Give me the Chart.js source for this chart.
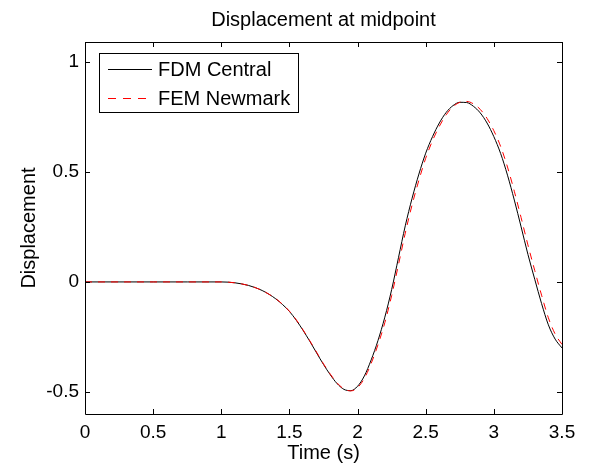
<!DOCTYPE html>
<html>
<head>
<meta charset="utf-8">
<script src="https://cdn.jsdelivr.net/npm/chart.js@4"></script>
<style>
  html, body { margin: 0; padding: 0; background: #fff; }
  #wrap { width: 592px; height: 466px; }
</style>
</head>
<body>
<div id="wrap"><canvas id="dispChart" width="592" height="466"></canvas></div>
<script>
// time samples (s)
const timeS = [0, 0.25, 0.5, 0.75,
    1.00, 1.05, 1.10, 1.15, 1.20, 1.25, 1.30, 1.35, 1.40, 1.45,
    1.50, 1.55, 1.60, 1.65, 1.70, 1.75, 1.80, 1.85, 1.90, 1.95,
    2.00, 2.05, 2.10, 2.15, 2.20, 2.25, 2.30, 2.35, 2.40, 2.45,
    2.50, 2.55, 2.60, 2.65, 2.70, 2.75, 2.80, 2.85, 2.90, 2.95,
    3.00, 3.05, 3.10, 3.15, 3.20, 3.25, 3.30, 3.35, 3.40, 3.45, 3.50];

const fdmCentral = [0, 0, 0, 0,
    0, -0.001, -0.004, -0.009, -0.016, -0.026, -0.039, -0.056, -0.077, -0.103,
    -0.134, -0.174, -0.220, -0.270, -0.323, -0.375, -0.422, -0.462, -0.488, -0.494,
    -0.474, -0.427, -0.354, -0.266, -0.160, -0.035, 0.110, 0.255, 0.380, 0.490,
    0.585, 0.660, 0.722, 0.770, 0.801, 0.816, 0.815, 0.798, 0.768, 0.722,
    0.660, 0.583, 0.485, 0.372, 0.250, 0.125, 0.012, -0.098, -0.195, -0.260, -0.300];

const femNewmark = [0, 0, 0, 0,
    0, -0.001, -0.004, -0.009, -0.016, -0.026, -0.039, -0.056, -0.076, -0.102,
    -0.133, -0.172, -0.218, -0.268, -0.320, -0.372, -0.419, -0.459, -0.486, -0.495,
    -0.480, -0.438, -0.370, -0.285, -0.185, -0.062, 0.078, 0.222, 0.350, 0.462,
    0.562, 0.642, 0.707, 0.759, 0.796, 0.816, 0.820, 0.809, 0.784, 0.743,
    0.687, 0.615, 0.522, 0.412, 0.292, 0.168, 0.052, -0.060, -0.163, -0.237, -0.284];

const xTicks = [0, 0.5, 1, 1.5, 2, 2.5, 3, 3.5];
const yTicks = [-0.5, 0, 0.5, 1];

const chartTitle = 'Displacement at midpoint';
const FONT = 'Liberation Sans, Arial, Helvetica, sans-serif';

// MATLAB-like box with inward ticks on all four sides, title over the axes, legend
const boxPlugin = {
    id: 'boxTicks',
    afterDraw(chart) {
        const { ctx, chartArea: a, scales } = chart;
        const tl = 5;
        ctx.save();
        ctx.strokeStyle = '#000';
        ctx.lineWidth = 1;
        ctx.beginPath();
        ctx.rect(Math.round(a.left) + 0.5, Math.round(a.top) + 0.5,
                 Math.round(a.right - a.left), Math.round(a.bottom - a.top));
        xTicks.forEach(v => {
            const px = Math.round(scales.x.getPixelForValue(v)) + 0.5;
            ctx.moveTo(px, a.bottom); ctx.lineTo(px, a.bottom - tl);
            ctx.moveTo(px, a.top); ctx.lineTo(px, a.top + tl);
        });
        yTicks.forEach(v => {
            const py = Math.round(scales.y.getPixelForValue(v)) + 0.5;
            ctx.moveTo(a.left, py); ctx.lineTo(a.left + tl, py);
            ctx.moveTo(a.right, py); ctx.lineTo(a.right - tl, py);
        });
        ctx.stroke();

        // title centred over the axes box
        ctx.fillStyle = '#000';
        ctx.font = '20px ' + FONT;
        ctx.textAlign = 'center';
        ctx.textBaseline = 'middle';
        ctx.fillText(chartTitle, (a.left + a.right) / 2, 20);

        // legend box in upper left
        const lx = 99.5, ly = 53.5, lw = 199, lh = 59;
        ctx.fillStyle = '#fff';
        ctx.fillRect(lx, ly, lw, lh);
        ctx.strokeStyle = '#000';
        ctx.strokeRect(lx, ly, lw, lh);
        ctx.font = '20px ' + FONT;
        ctx.textBaseline = 'middle';
        ctx.textAlign = 'left';
        const entries = [chart.data.datasets[0], chart.data.datasets[1]];
        entries.forEach((ds, i) => {
            const ry = Math.round(ly + 15 + i * 29) + 0.5;
            ctx.beginPath();
            ctx.strokeStyle = ds.borderColor;
            ctx.setLineDash(ds.borderDash ? [8, 7] : []);
            ctx.moveTo(108, ry); ctx.lineTo(152, ry);
            ctx.stroke();
            ctx.setLineDash([]);
            ctx.fillStyle = '#000';
            ctx.fillText(ds.label, 158, ry + 1);
        });
        ctx.restore();
    }
};

const ctx = document.getElementById('dispChart').getContext('2d');
const chart = new Chart(ctx, {
    type: 'line',
    data: {
        datasets: [
            {
                label: 'FDM Central',
                data: timeS.map((t, i) => ({ x: t, y: fdmCentral[i] })),
                borderColor: '#000000',
                borderWidth: 1,
                pointRadius: 0,
                cubicInterpolationMode: 'monotone',
                fill: false,
                order: 1,
            },
            {
                label: 'FEM Newmark',
                data: timeS.map((t, i) => ({ x: t, y: femNewmark[i] })),
                borderColor: '#ff0000',
                borderWidth: 1,
                borderDash: [7, 6],
                pointRadius: 0,
                cubicInterpolationMode: 'monotone',
                fill: false,
                order: 0,
            },
        ],
    },
    options: {
        responsive: false,
        animation: false,
        layout: { padding: { left: 0, right: 30, top: 42, bottom: 0 } },
        plugins: {
            legend: { display: false },
            tooltip: { enabled: false },
            title: { display: false },
        },
        scales: {
            x: {
                type: 'linear',
                min: 0,
                max: 3.5,
                grid: { display: false, drawTicks: false },
                border: { display: false },
                afterBuildTicks: s => { s.ticks = xTicks.map(v => ({ value: v })); },
                afterFit: s => { s.height = 52; },
                ticks: {
                    color: '#000',
                    padding: 7,
                    maxRotation: 0,
                    font: { family: FONT, size: 19 },
                    callback: v => String(v),
                },
                title: {
                    display: true,
                    text: 'Time (s)',
                    color: '#000',
                    font: { family: FONT, size: 20 },
                    padding: { top: 0, bottom: 1 },
                },
            },
            y: {
                min: -0.6,
                max: 1.09,
                grid: { display: false, drawTicks: false },
                border: { display: false },
                afterBuildTicks: s => { s.ticks = yTicks.map(v => ({ value: v })); },
                afterFit: s => { s.width = 85; },
                ticks: {
                    color: '#000',
                    padding: 6,
                    font: { family: FONT, size: 19 },
                    callback: v => String(v),
                },
                title: {
                    display: true,
                    text: 'Displacement',
                    color: '#000',
                    font: { family: FONT, size: 20 },
                    padding: { top: 17, bottom: 0 },
                },
            },
        },
    },
    plugins: [boxPlugin],
});
</script>
</body>
</html>
